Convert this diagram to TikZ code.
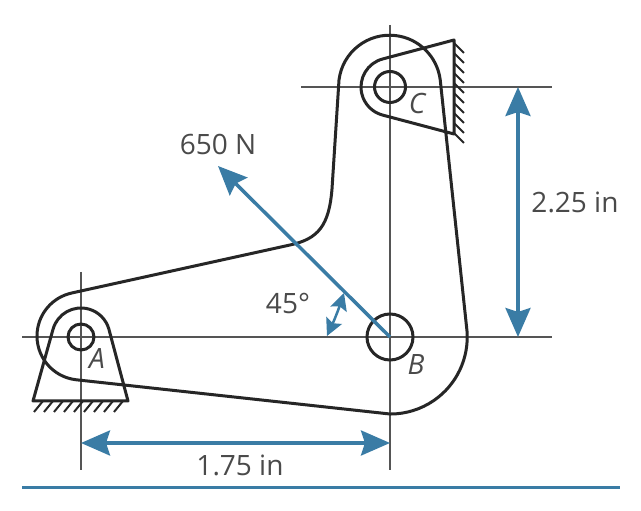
\documentclass[tikz,border=0pt]{standalone}
\usepackage{fontspec}
\setmainfont{Open Sans}
\usetikzlibrary{arrows.meta}
\definecolor{dimblue}{HTML}{3A7CA5}
\definecolor{axisgrey}{HTML}{555555}
\definecolor{labelgrey}{HTML}{4A4A4A}
\tikzset{
  axisline/.style={draw=axisgrey,line width=1.5pt},
  part/.style={draw=black!85,line width=3pt,line join=round},
  hatching/.style={draw=black!85,line width=2pt},
  pin/.style={circle,draw=black!85,line width=3pt,inner sep=0pt,fill=none},
  bluedim/.style={draw=dimblue,line width=3.5pt,{Stealth[length=29pt,width=25pt,inset=4pt]}-{Stealth[length=29pt,width=25pt,inset=4pt]}},
  force/.style={draw=dimblue,line width=3.5pt,-{Stealth[length=29pt,width=25pt,inset=4pt]}},
  anglemark/.style={draw=dimblue,line width=2.5pt,{Stealth[length=17pt,width=17pt,inset=3pt]}-{Stealth[length=17pt,width=17pt,inset=3pt]}},
  lab/.style={text=labelgrey,font=\fontsize{28}{32}\selectfont,inner sep=0pt},
  pointlab/.style={text=labelgrey,font=\fontsize{28}{32}\selectfont\itshape,inner sep=0pt},
}
\begin{document}
\begin{tikzpicture}[x=1pt,y=1pt]
\useasboundingbox (0,0) rectangle (641,511);
\fill[white] (0,0) rectangle (641,511);
% named reference points
\coordinate (A) at (81,174);
\coordinate (B) at (390,174);
\coordinate (C) at (390,424);
\coordinate (axAL) at (22,174);
\coordinate (axAR) at (552,174);
\coordinate (axCL) at (301,424);
\coordinate (axCR) at (552,424);
\coordinate (axAT) at (81,239);
\coordinate (axAB) at (81,41);
\coordinate (axBT) at (390,486);
\coordinate (axBB) at (390,41);
\coordinate (forceEnd) at (218,345);
\coordinate (dimAL) at (81,68);
\coordinate (dimBL) at (390,68);
\coordinate (dimCV) at (518,424);
\coordinate (dimBV) at (518,174);
\coordinate (angS) at (327,175);
\coordinate (angE) at (344,218);
\coordinate (ruleL) at (22,23);
\coordinate (ruleR) at (620,23);
% axes
\draw[axisline] (axAL) -- (axAR);
\draw[axisline] (axCL) -- (axCR);
\draw[axisline] (axAT) -- (axAB);
\draw[axisline] (axBT) -- (axBB);
% link
\draw[part] (71.3,217.9) -- (290,266) .. controls (318,272) and (329,285) .. (332,322)
  -- (339,431) arc[start angle=173,end angle=7,radius=51]
  -- (467,180) arc[start angle=4.5,end angle=-90,radius=77]
  -- (76.4,131.2) arc[start angle=-96,end angle=-257.3,radius=44] -- cycle;
% brackets
\draw[part] (454,471) -- (383,452.1) arc[start angle=104,end angle=254.3,radius=29] -- (454,377) -- cycle;
\draw[part] (33,110) -- (53.1,182) arc[start angle=164,end angle=16,radius=29] -- (128,110) -- cycle;
% hatching
\foreach \y in {378,388,...,468} \draw[hatching] (454,\y) -- (464,\y-10);
\foreach \x in {43,53,...,123} \draw[hatching] (\x,110) -- (\x-9,99);
% pins
\node[pin,minimum size=26pt] (pinA) at (A) {};
\node[pin,minimum size=46pt] (pinB) at (B) {};
\node[pin,minimum size=31pt] (pinC) at (C) {};
% dimensions and force
\draw[force] (B) -- (forceEnd);
\draw[bluedim] (dimAL) -- (dimBL);
\draw[bluedim] (dimCV) -- (dimBV);
\draw[anglemark] (angS) to[bend right=3] (angE);
\draw[draw=dimblue,line width=3pt] (ruleL) -- (ruleR);
% labels
\node[lab] (lf) at (218,367) {650 N};
\node[lab] (lv) at (575,309) {2.25 in};
\node[lab] (lh) at (240,46) {1.75 in};
\node[lab] (la) at (288,207) {45°};
\node[pointlab] (pa) at (97,152) {A};
\node[pointlab] (pb) at (416,146) {B};
\node[pointlab] (pc) at (417,407) {C};
\end{tikzpicture}
\end{document}
